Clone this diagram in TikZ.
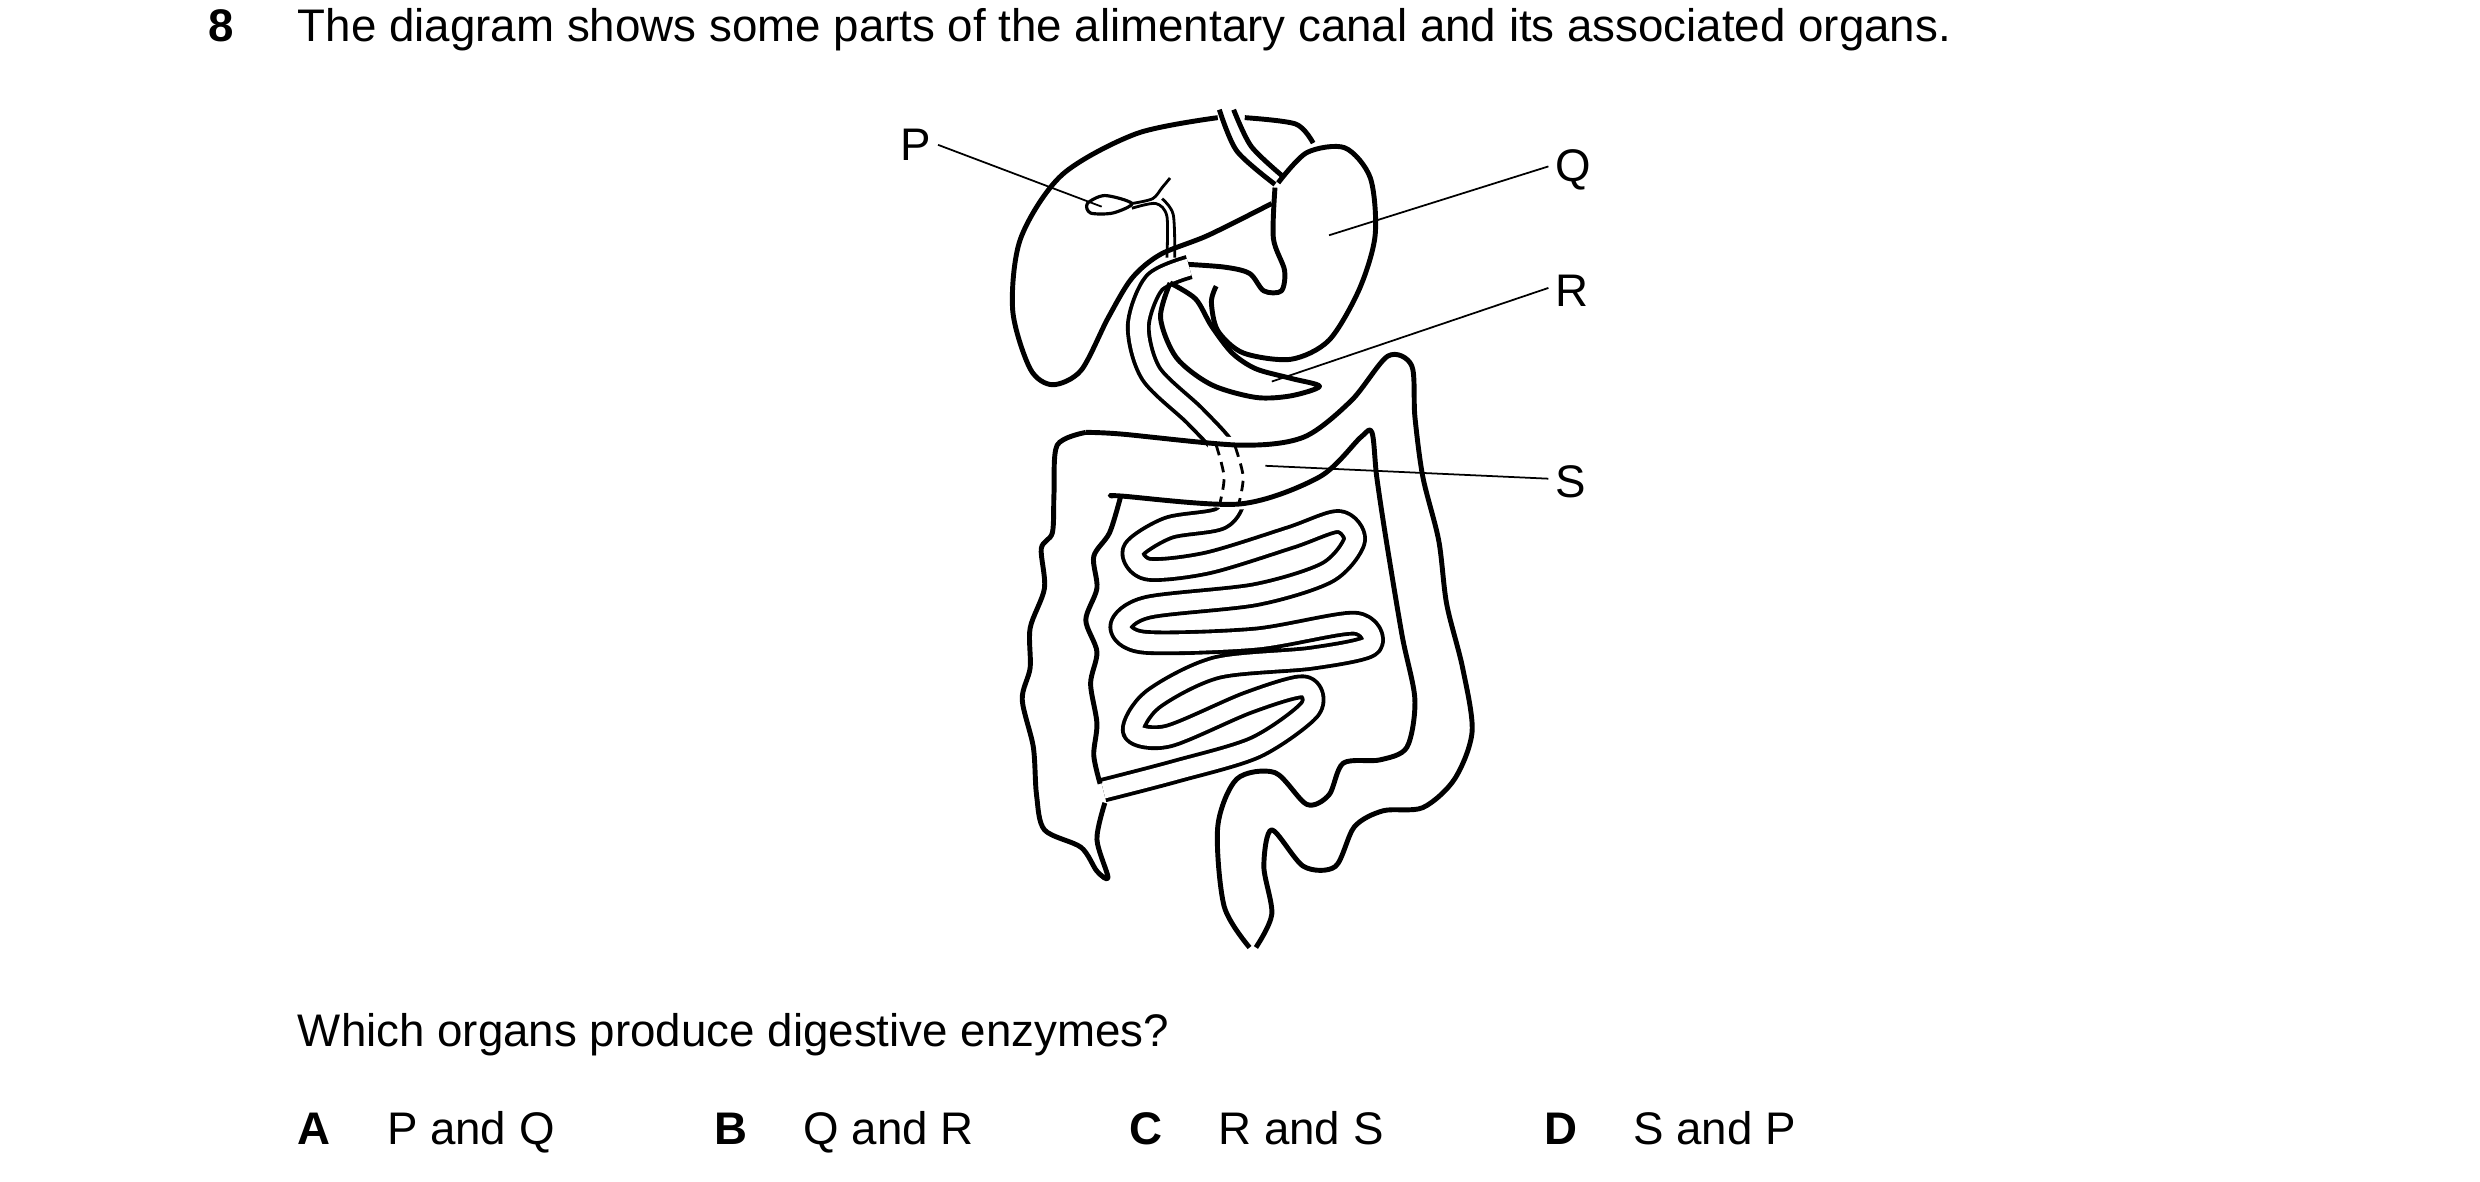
\documentclass[tikz,border=0pt]{standalone}
\usepackage{fontspec}
\setmainfont{Liberation Sans}
\begin{document}
\begin{tikzpicture}[x=0.0159cm,y=-0.0159cm,
    organ/.style={line width=1.4pt,line join=round},
    tube/.style={double=white,line width=1.1pt,double distance=1.7mm,line join=round},
    lead/.style={line width=0.5pt},
    txt/.style={anchor=base west,font=\fontsize{13}{15}\selectfont,inner sep=0pt}]
      \useasboundingbox (0,0) rectangle (1560,743);
      \node[txt,font=\fontsize{13}{15}\selectfont\bfseries] (num) at (131,26) {8};
      \node[txt] (head) at (187,26) {The diagram shows some parts of the alimentary canal and its associated organs.};

      % liver
      \draw[organ] plot[smooth] coordinates {(766,74) (715,84) (668,110) (642,150) (637,195) (648,232) (662,242) (680,233) (697,200) (712,175) (730,160) (760,148) (800,128)};
      \draw[organ] plot[smooth] coordinates {(783,74) (815,78) (826,90)};
      % oesophagus
      \draw[organ] plot[smooth] coordinates {(767,69) (778,95) (802,116)};
      \draw[organ] plot[smooth] coordinates {(776,69) (787,92) (807,111)};
      % stomach
      \draw[organ] plot[smooth] coordinates {(804,115) (822,96) (846,93) (862,112) (865,148) (855,182) (836,214) (812,226) (782,222) (766,208) (762,190) (765,180)};
      \draw[organ] plot[smooth] coordinates {(802,118) (801,150) (808,170) (806,183) (795,183) (786,172) (770,168) (742,166)};
      % duodenum and small intestine
      \draw[tube] plot[smooth] coordinates {(748,168) (726,178) (716,205) (724,235) (752,262) (772,285) (777,310) (768,326) (735,332) (713,346) (722,358) (760,354) (812,338) (842,328) (852,340) (835,360) (790,374) (722,382) (705,394) (720,404) (790,402) (852,392) (862,406) (825,414) (765,420) (725,440) (713,460) (735,463) (785,442) (820,432) (824,446) (790,470) (740,485) (694,497)};
      % pancreas
      \draw[organ] plot[smooth] coordinates {(736,178) (730,200) (740,225) (762,242) (790,250) (812,249) (830,243) (812,238) (790,232) (775,222) (762,205) (752,188) (736,178)};
      % bile duct and gall bladder
      \draw[organ,line width=0.9pt] plot[smooth cycle] coordinates {(684,128) (695,123) (712,128) (700,134) (686,134)};
      \draw[line width=0.8pt] plot[smooth] coordinates {(712,128) (725,125) (731,118) (736,112)};
      \draw[line width=0.8pt] plot[smooth] coordinates {(712,131) (727,128) (734,136) (734,162)};
      \draw[line width=0.8pt] plot[smooth] coordinates {(731,125) (738,135) (739,162)};
      % large intestine
      \fill[white] plot[smooth] coordinates {(760,275) (790,279) (790,318) (758,318)} -- cycle;
      \draw[organ] plot[smooth] coordinates {(700,312) (705,312) (780,317) (830,300) (856,275) (863,272) (866,300) (872,340) (882,400) (890,440) (885,470) (868,478) (845,480) (836,500) (822,506) (802,486) (778,490) (766,520) (770,570) (786,596)};
      \draw[organ] plot[smooth] coordinates {(683,272) (705,273) (780,280) (820,275) (850,252) (873,224) (888,230) (890,262) (895,300) (905,340) (910,380) (920,420) (926,460) (915,490) (895,508) (870,510) (852,520) (840,545) (820,545) (800,522) (795,545) (800,575) (790,596)};
      \draw[organ] plot[smooth] coordinates {(683,272) (665,280) (663,310) (662,335) (655,345) (657,370) (648,395) (648,420) (643,440) (650,470) (652,500) (657,522) (680,533) (690,548) (697,552) (690,528) (695,505)};
      \draw[organ] plot[smooth] coordinates {(705,312) (698,335) (688,350) (690,370) (683,390) (690,410) (686,430) (690,455) (688,475) (692,493)};
      \draw[densely dashed,line width=0.8pt] plot[smooth] coordinates {(765,280) (770,300) (767,318)};
      \draw[densely dashed,line width=0.8pt] plot[smooth] coordinates {(777,281) (782,300) (779,318)};

      % labels
      \node[txt] (P) at (566,101) {P};
      \node[txt] (Q) at (978,114) {Q};
      \node[txt] (R) at (978,193) {R};
      \node[txt] (S) at (978,313) {S};
      \coordinate (pEnd) at (693,130);
      \coordinate (qEnd) at (836,148);
      \coordinate (rEnd) at (800,240);
      \coordinate (sEnd) at (796,293);
      \draw[lead] (P.east) ++(4,0) -- (pEnd);
      \draw[lead] (Q.west) ++(-4,-2) -- (qEnd);
      \draw[lead] (R.west) ++(-4,-2) -- (rEnd);
      \draw[lead] (S.west) ++(-4,-2) -- (sEnd);

      \node[txt] (ask) at (187,658) {Which organs produce digestive enzymes?};
      \node[txt,font=\fontsize{13}{15}\selectfont\bfseries] (A) at (187,720) {A};
      \node[txt] (optA) at (243,720) {P and Q};
      \node[txt,font=\fontsize{13}{15}\selectfont\bfseries] (B) at (449,720) {B};
      \node[txt] (optB) at (505,720) {Q and R};
      \node[txt,font=\fontsize{13}{15}\selectfont\bfseries] (C) at (710,720) {C};
      \node[txt] (optC) at (766,720) {R and S};
      \node[txt,font=\fontsize{13}{15}\selectfont\bfseries] (D) at (971,720) {D};
      \node[txt] (optD) at (1027,720) {S and P};
    \end{tikzpicture}
\end{document}
